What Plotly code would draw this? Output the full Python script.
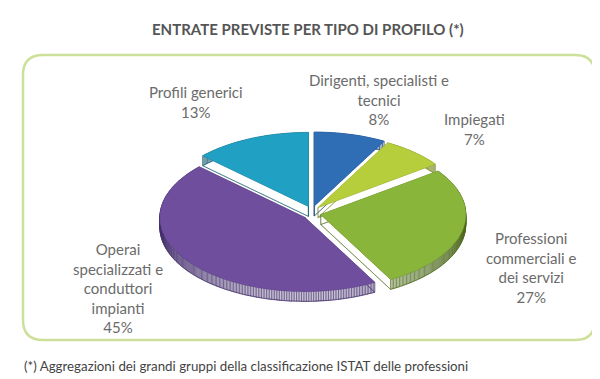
import numpy as np
import plotly.graph_objects as go

# ---- data ----
categories = [
    "Dirigenti, specialisti e tecnici",
    "Impiegati",
    "Professioni commerciali e dei servizi",
    "Operai specializzati e conduttori impianti",
    "Profili generici",
]
values = [8, 7, 27, 45, 13]
label_lines = [
    ["Dirigenti, specialisti e", "tecnici"],
    ["Impiegati"],
    ["Professioni", "commerciali e", "dei servizi"],
    ["Operai", "specializzati e", "conduttori", "impianti"],
    ["Profili generici"],
]
top_colors = ["#2f6db5", "#b6cd3c", "#8ab53b", "#6e4e9d", "#20a0c3"]
side_colors = ["#1d4579", "#7b8c24", "#4f6b1f", "#45306c", "#175c70"]

title_text = "ENTRATE PREVISTE PER TIPO DI PROFILO (*)"
footnote_text = "(*) Aggregazioni dei grandi gruppi della classificazione ISTAT delle professioni"

# ---- geometry (pixel space) ----
W, H = 600, 379
CX, CY = 304, 205
RX, RY = 145, 74
DEPTH = 10
EXPLODE = 9

label_pos = [(371, 91), (466, 121), (523, 259), (110, 280), (188, 94)]

fig = go.Figure()

total = float(sum(values))
angles = np.concatenate([[0.0], np.cumsum(values) / total * 360.0])

polys = []
for i, v in enumerate(values):
    a0, a1 = angles[i], angles[i + 1]
    mid = np.radians((a0 + a1) / 2)
    ox = EXPLODE * np.sin(mid)
    oy = -EXPLODE * np.cos(mid) * 0.8
    th = np.radians(np.linspace(a0, a1, max(8, int((a1 - a0) * 1.5))))
    xs = [CX + ox] + list(CX + ox + RX * np.sin(th)) + [CX + ox]
    ys = [CY + oy] + list(CY + oy - RY * np.cos(th)) + [CY + oy]
    polys.append((xs, ys))

# sides (extrusion) first
for i, (xs, ys) in enumerate(polys):
    sx, sy = [], []
    sx += xs + [None]
    sy += [y + DEPTH for y in ys] + [None]
    for k in range(len(xs) - 1):
        sx += [xs[k], xs[k + 1], xs[k + 1], xs[k], xs[k], None]
        sy += [ys[k], ys[k + 1], ys[k + 1] + DEPTH, ys[k] + DEPTH, ys[k], None]
    fig.add_trace(go.Scatter(x=sx, y=sy, mode="lines", fill="toself",
                             fillcolor=side_colors[i], line=dict(width=0.5, color=side_colors[i]),
                             hoverinfo="skip", showlegend=False))

# tops
for i, (xs, ys) in enumerate(polys):
    fig.add_trace(go.Scatter(x=xs, y=ys, mode="lines", fill="toself",
                             fillcolor=top_colors[i], line=dict(width=0.5, color=top_colors[i]),
                             name=categories[i], hoverinfo="name", showlegend=False))

# labels
for i, v in enumerate(values):
    txt = "<br>".join(label_lines[i] + [f"{v}%"])
    fig.add_annotation(x=label_pos[i][0], y=label_pos[i][1], text=txt, showarrow=False,
                       xanchor="center", yanchor="middle", align="center",
                       font=dict(family="Lato, sans-serif", size=15, color="#6b6b6b"))

fig.add_annotation(x=300, y=21, text="<b>" + title_text + "</b>", showarrow=False,
                   xanchor="center", yanchor="middle",
                   font=dict(family="Lato, sans-serif", size=15, color="#555555"))
fig.add_annotation(x=14, y=358, text=footnote_text, showarrow=False,
                   xanchor="left", yanchor="middle",
                   font=dict(family="Lato, sans-serif", size=13.3, color="#444444"))

# rounded border
x0, y0, x1, y1, r = 15, 47, 587, 332, 20
path = (f"M {x0+r},{y0} L {x1-r},{y0} Q {x1},{y0} {x1},{y0+r} L {x1},{y1-r} "
        f"Q {x1},{y1} {x1-r},{y1} L {x0+r},{y1} Q {x0},{y1} {x0},{y1-r} "
        f"L {x0},{y0+r} Q {x0},{y0} {x0+r},{y0} Z")
fig.add_shape(type="path", path=path, line=dict(color="#cde09a", width=2.5), layer="below")

fig.update_layout(
    width=W, height=H, margin=dict(l=0, r=0, t=0, b=0),
    paper_bgcolor="white", plot_bgcolor="white",
    xaxis=dict(range=[0, W], visible=False, fixedrange=True),
    yaxis=dict(range=[H, 0], visible=False, fixedrange=True),
)
fig.write_html("out.html")
